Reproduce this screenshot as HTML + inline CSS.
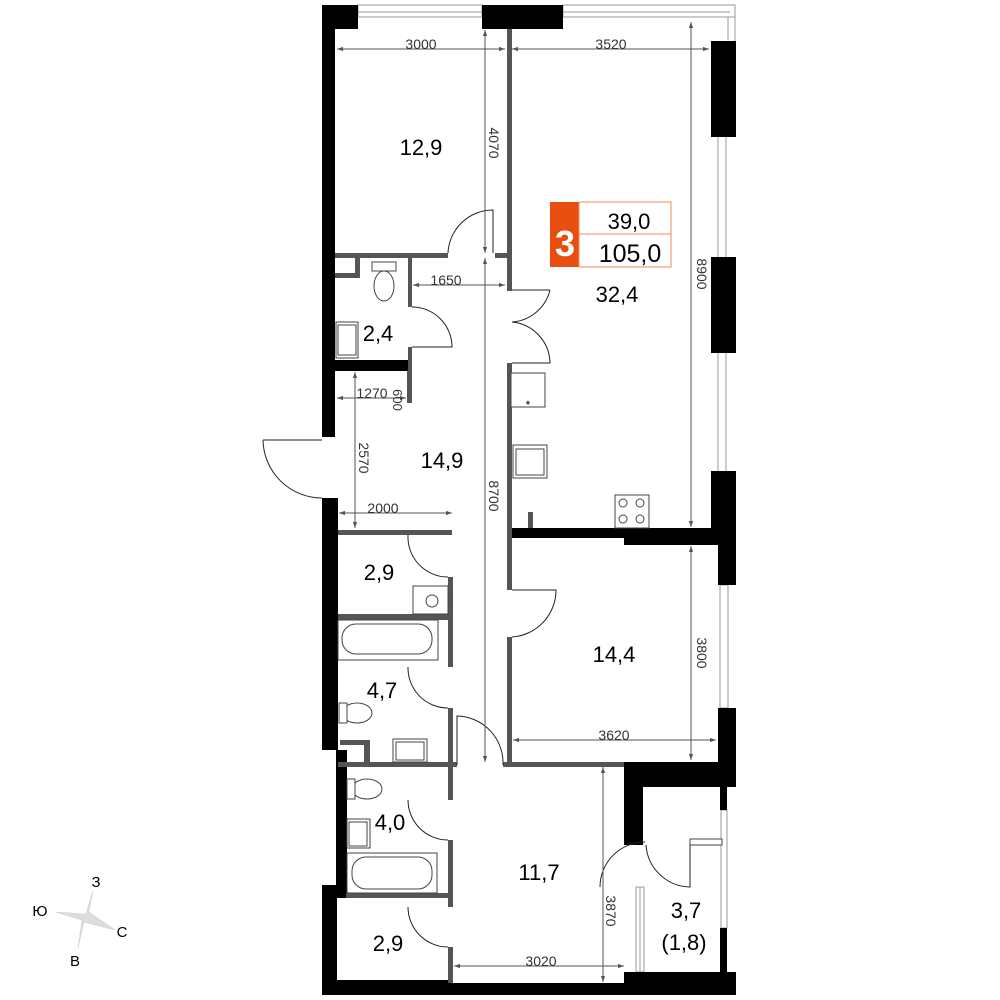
<!DOCTYPE html>
<html><head><meta charset="utf-8"><style>
html,body{margin:0;padding:0;background:#fff;}
svg{display:block;}
text{font-family:"Liberation Sans",sans-serif;}
</style></head><body>
<svg width="1000" height="1000" viewBox="0 0 1000 1000" xmlns="http://www.w3.org/2000/svg">
<defs>
<marker id="a" viewBox="0 0 10 10" refX="10" refY="5" markerWidth="10" markerHeight="6" orient="auto-start-reverse" markerUnits="userSpaceOnUse"><path d="M0,1.5 L10,5 L0,8.5z" fill="#555"/></marker>
</defs>
<g fill="none" stroke="#999" stroke-width="1">
<rect x="358" y="5" width="124" height="12"/>
<line x1="358" y1="12" x2="482" y2="12"/>
<rect x="563" y="5" width="172" height="12"/>
<line x1="563" y1="12" x2="730" y2="12"/>
<path d="M728 17 V40 M735 5 V41"/>
<path d="M718 137 V257 M726 137 V257 M718 353 V471 M726 353 V471"/>
<rect x="720" y="585" width="8" height="123"/>
<rect x="721" y="810" width="6" height="118"/>
<rect x="636" y="887" width="8" height="85"/>
<line x1="640" y1="887" x2="640" y2="972"/>
</g>
<g fill="#000">
<rect x="322" y="5" width="36" height="24"/>
<rect x="322" y="5" width="13" height="432"/>
<rect x="482" y="5" width="81" height="24"/>
<rect x="711" y="41" width="25" height="96"/>
<rect x="711" y="257" width="25" height="96"/>
<rect x="711" y="471" width="25" height="59"/>
<rect x="507" y="528" width="229" height="10"/>
<rect x="624" y="528" width="112" height="17"/>
<rect x="718" y="545" width="18" height="40"/>
<rect x="718" y="708" width="18" height="79"/>
<rect x="624" y="762" width="112" height="25"/>
<rect x="624" y="787" width="19" height="58"/>
<rect x="720" y="787" width="7" height="23"/>
<rect x="720" y="928" width="7" height="44"/>
<rect x="624" y="972" width="112" height="23"/>
<rect x="322" y="980" width="130" height="15"/>
<rect x="452" y="983" width="172" height="12"/>
<rect x="322" y="498" width="16" height="252"/>
<rect x="336" y="750" width="11" height="148"/>
<rect x="322" y="885" width="15" height="110"/>
<rect x="335" y="360" width="77" height="11"/>
</g>
<g fill="#555">
<rect x="507" y="29" width="5" height="262"/>
<rect x="507" y="363" width="5" height="165"/>
<rect x="335" y="253" width="113" height="5"/>
<rect x="495" y="253" width="12" height="5"/>
<rect x="355" y="258" width="5" height="20"/>
<rect x="335" y="273" width="25" height="5"/>
<rect x="408" y="258" width="4" height="49"/>
<rect x="408" y="347" width="4" height="28"/>
<rect x="407" y="371" width="5" height="32"/>
<rect x="338" y="530" width="114" height="5"/>
<rect x="448" y="577" width="5" height="90"/>
<rect x="448" y="708" width="5" height="57"/>
<rect x="338" y="614" width="114" height="6"/>
<rect x="338" y="762" width="119" height="5"/>
<rect x="503" y="762" width="121" height="5"/>
<rect x="364" y="740" width="6" height="25"/>
<rect x="340" y="740" width="30" height="5"/>
<rect x="448" y="767" width="5" height="33"/>
<rect x="448" y="840" width="5" height="67"/>
<rect x="346" y="893" width="106" height="5"/>
<rect x="448" y="947" width="5" height="36"/>
<rect x="507" y="545" width="5" height="45"/>
<rect x="507" y="637" width="5" height="128"/>
<rect x="507" y="528" width="5" height="17"/>
<rect x="528" y="512" width="5" height="16"/>
</g>
<g fill="none" stroke="#222" stroke-width="1">
<path d="M263 440 H322 M263 440 A59 59 0 0 0 322 498"/>
<path d="M448 253 A45 45 0 0 1 493 210 V253"/>
<path d="M512 290 H550 M550 290 A42 42 0 0 1 512 322 A42 42 0 0 1 550 363 H512"/>
<path d="M412 307 A40 40 0 0 1 452 347 H412"/>
<path d="M408 535 A40 40 0 0 0 448 577 M408 667 A40 40 0 0 0 448 708 M408 800 A40 40 0 0 0 448 840 M408 907 A40 40 0 0 0 448 947"/>
<path d="M512 590 H556 A47 47 0 0 1 512 637"/>
<path d="M457 765 V716 A47 47 0 0 1 503 765"/>
<path d="M600 887 A45 45 0 0 1 645 842 M646 845 A45 45 0 0 0 690 887 V840 H720"/>
</g>
<g fill="#fff" stroke="#444" stroke-width="1">
<rect x="372" y="262" width="24" height="9"/>
<ellipse cx="384" cy="286" rx="10" ry="15"/>
<rect x="336" y="322" width="22" height="36"/><rect x="338" y="325" width="18" height="30"/>
<rect x="511" y="373" width="34" height="34"/>
<rect x="513" y="445" width="34" height="33"/><rect x="516" y="449" width="28" height="26"/>
<rect x="615" y="495" width="34" height="33"/>
<circle cx="623" cy="503" r="4"/><circle cx="640" cy="503" r="4"/><circle cx="623" cy="519" r="4"/><circle cx="640" cy="519" r="4"/>
<rect x="413" y="586" width="35" height="28"/><circle cx="432" cy="601" r="6"/>
<rect x="338" y="620" width="100" height="40"/><rect x="342" y="624" width="90" height="30" rx="14"/>
<ellipse cx="357" cy="713" rx="15" ry="10"/><rect x="339" y="703" width="8" height="20"/>
<rect x="393" y="739" width="34" height="23"/><rect x="396" y="742" width="28" height="18"/>
<ellipse cx="367" cy="789" rx="15" ry="10"/><rect x="347" y="779" width="8" height="20"/>
<rect x="347" y="819" width="23" height="29"/><rect x="349" y="822" width="18" height="24"/>
<rect x="347" y="853" width="90" height="40"/><rect x="352" y="857" width="80" height="32" rx="14"/>
<rect x="690" y="839" width="32" height="6"/>
</g>
<text x="528" y="409" font-size="12" text-anchor="middle">*</text>
<g stroke="#555" stroke-width="1" fill="none">
<line x1="337" y1="49" x2="505" y2="49" marker-start="url(#a)" marker-end="url(#a)"/>
<line x1="512" y1="49" x2="709" y2="49" marker-start="url(#a)" marker-end="url(#a)"/>
<line x1="485" y1="30" x2="485" y2="253" marker-start="url(#a)" marker-end="url(#a)"/>
<line x1="485" y1="258" x2="485" y2="762" marker-start="url(#a)" marker-end="url(#a)"/>
<line x1="691" y1="22" x2="691" y2="527" marker-start="url(#a)" marker-end="url(#a)"/>
<line x1="413" y1="285" x2="505" y2="285" marker-start="url(#a)" marker-end="url(#a)"/>
<line x1="337" y1="398" x2="406" y2="398" marker-start="url(#a)" marker-end="url(#a)"/>
<line x1="355" y1="372" x2="355" y2="528" marker-start="url(#a)" marker-end="url(#a)"/>
<line x1="339" y1="513" x2="452" y2="513" marker-start="url(#a)" marker-end="url(#a)"/>
<line x1="691" y1="546" x2="691" y2="760" marker-start="url(#a)" marker-end="url(#a)"/>
<line x1="513" y1="740" x2="716" y2="740" marker-start="url(#a)" marker-end="url(#a)"/>
<line x1="603" y1="767" x2="603" y2="982" marker-start="url(#a)" marker-end="url(#a)"/>
<line x1="454" y1="966" x2="624" y2="966" marker-start="url(#a)" marker-end="url(#a)"/>
</g>
<g fill="#333" font-size="14" text-anchor="middle">
<text x="421" y="49">3000</text>
<text x="611" y="49">3520</text>
<text x="446" y="285">1650</text>
<text x="372" y="398">1270</text>
<text x="383" y="513">2000</text>
<text x="614" y="740">3620</text>
<text x="541" y="966">3020</text>
<text transform="translate(489,143) rotate(90)">4070</text>
<text transform="translate(489,496) rotate(90)">8700</text>
<text transform="translate(697,274) rotate(90)">8900</text>
<text transform="translate(697,653) rotate(90)">3800</text>
<text transform="translate(359,458) rotate(90)">2570</text>
<text transform="translate(606,911) rotate(90)">3870</text>
<text transform="translate(393,400) rotate(90)" font-size="13">600</text>
</g>
<g fill="#000" font-size="22" text-anchor="middle">
<text x="421" y="155">12,9</text>
<text x="617" y="302">32,4</text>
<text x="378" y="341">2,4</text>
<text x="442" y="468">14,9</text>
<text x="379" y="580">2,9</text>
<text x="614" y="662">14,4</text>
<text x="382" y="698">4,7</text>
<text x="390" y="830">4,0</text>
<text x="539" y="880">11,7</text>
<text x="388" y="951">2,9</text>
<text x="686" y="918">3,7</text>
<text x="684" y="950">(1,8)</text>
</g>
<rect x="550" y="202" width="29" height="65" fill="#e84e0f"/>
<rect x="579" y="202" width="92" height="65" fill="#fff" stroke="#f08a5d" stroke-width="1"/>
<line x1="579" y1="234" x2="671" y2="234" stroke="#f08a5d"/>
<text x="565" y="256" font-size="36" font-weight="bold" fill="#fff" text-anchor="middle">3</text>
<text x="629" y="229" font-size="22" text-anchor="middle">39,0</text>
<text x="630" y="262" font-size="25" text-anchor="middle">105,0</text>
<path d="M93 890 L89 912 L115 930 L84 922 L78 948 L82 920 L55 912 L86 914 Z" fill="#ddd" stroke="#ccc" stroke-width="0.5"/>
<g font-size="15" fill="#000" text-anchor="middle">
<text x="96" y="887">З</text>
<text x="40" y="916">Ю</text>
<text x="122" y="937">С</text>
<text x="75" y="966">В</text>
</g>
</svg>
</body></html>
